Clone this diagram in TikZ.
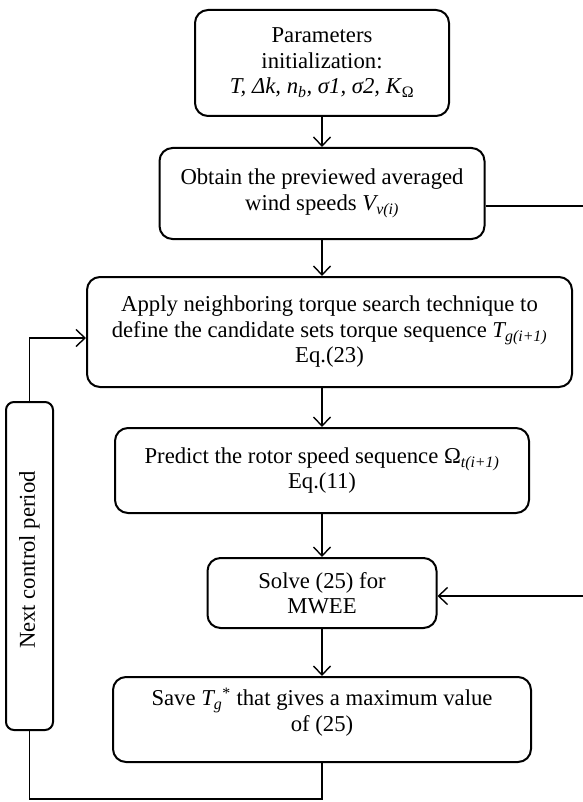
\documentclass[tikz,border=0pt]{standalone}
\usepackage{fontspec}
\setmainfont{Liberation Serif}
\usetikzlibrary{arrows.meta}
\begin{document}
\begin{tikzpicture}[x=1pt,y=-1pt,
  box/.style={draw, line width=2pt, rounded corners=13pt, align=center, inner sep=0pt,
    font=\fontsize{22.7}{25.5}\selectfont},
  txt/.style={align=center, inner sep=0pt, font=\fontsize{22.7}{25.5}\selectfont},
  conn/.style={line width=1.4pt},
  arr/.style={conn, -{Straight Barb[length=9pt,width=17pt,line width=1.4pt]}}]
\useasboundingbox (0,0) rectangle (582,802);
\node[box, minimum width=254pt, minimum height=106pt] (b1) at (322,63)
  {Parameters\\initialization:\\\textit{T, Δk, n\textsubscript{b}, σ1, σ2, K}\textsubscript{Ω}};
\node[box, minimum width=325pt, minimum height=91pt] (b2) at (322,193.5)
  {Obtain the previewed averaged\\wind speeds \textit{V\textsubscript{v(i)}}};
\node[box, minimum width=485pt, minimum height=110pt] (b3) at (329.5,332)
  {Apply neighboring torque search technique to\\define the candidate sets torque sequence \textit{T\textsubscript{g(i+1)}}\\Eq.(23)};
\node[box, minimum width=414pt, minimum height=85pt] (b4) at (322,470.5)
  {Predict the rotor speed sequence Ω\textsubscript{\textit{t(i+1)}}\\Eq.(11)};
\node[box, minimum width=229pt, minimum height=70pt] (b5) at (322,593)
  {Solve (25) for\\MWEE};
\node[box, minimum width=418pt, minimum height=85pt] (b6) at (322,719.5)
  {Save \textit{T\textsubscript{g}}\textsuperscript{*} that gives a maximum value\\of (25)\\[-6pt]};
\node[box, rounded corners=8pt, minimum width=47pt, minimum height=328pt] (ncp) at (29.5,566)
  {};
\node[txt, rotate=90] (ncpt) at (29.5,560) {Next control period};
\coordinate (yl) at (0,338);
\coordinate (yb) at (0,799);
\coordinate (ra) at (600,206);
\coordinate (rb) at (600,596);
\draw[arr] (b1.south) -- (b2.north);
\draw[arr] (b2.south) -- (b2.south |- b3.north);
\draw[arr] (b4.north |- b3.south) -- (b4.north);
\draw[arr] (b4.south) -- (b5.north);
\draw[arr] (b5.south) -- (b6.north);
\draw[conn] (b6.south) -- (b6.south |- yb) -- (ncp.south |- yb) -- (ncp.south);
\draw[arr] (ncp.north) -- (ncp.north |- yl) -- (b3.west |- yl);
\draw[arr] (b2.east |- ra) -- (ra) -- (rb) -- (b5.east |- rb);
\end{tikzpicture}
\end{document}
